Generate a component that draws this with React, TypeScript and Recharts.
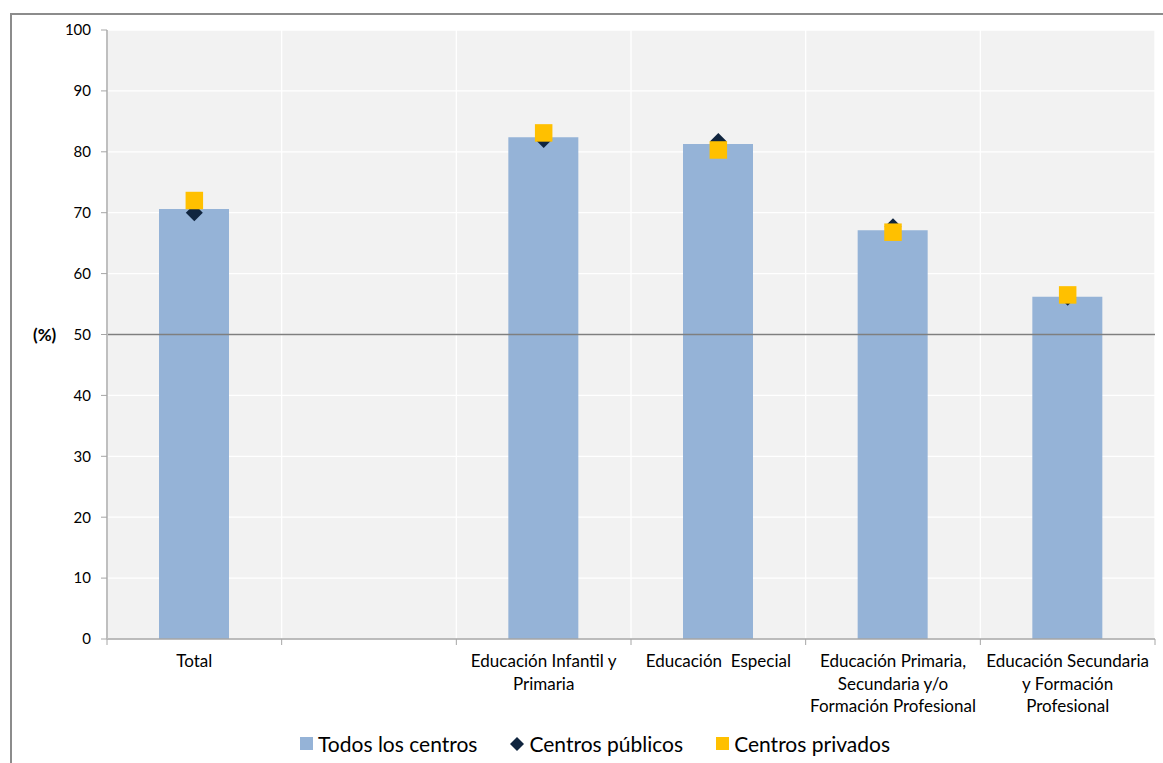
import React from 'react';
import { ComposedChart, Bar, Scatter, XAxis, YAxis, CartesianGrid, ReferenceLine, Legend } from 'recharts';

const categories: string[][] = [
  ['Total'],
  [''],
  ['Educación Infantil y', 'Primaria'],
  ['Educación  Especial'],
  ['Educación Primaria,', 'Secundaria y/o', 'Formación Profesional'],
  ['Educación Secundaria', 'y Formación', 'Profesional'],
];
const positions = [0.5, 1.5, 2.5, 3.5, 4.5, 5.5];
const todos: (number | null)[] = [70.6, null, 82.4, 81.3, 67.1, 56.2];
const publicos: (number | null)[] = [70.0, null, 82.0, 81.7, 67.7, 56.1];
const privados: (number | null)[] = [72.0, null, 83.1, 80.3, 66.8, 56.5];
const yTicks = [0, 10, 20, 30, 40, 50, 60, 70, 80, 90, 100];
const xBoundaries = [0, 1, 2, 3, 4, 5, 6];
const referenceValue = 50;

const data = positions.map((p, i) => ({
  pos: p,
  todos: todos[i],
  publicos: publicos[i],
  privados: privados[i],
}));

const FONT = 'Lato, "Open Sans", sans-serif';
const BAR_COLOR = '#95b3d7';
const PUB_COLOR = '#10253f';
const PRIV_COLOR = '#ffc000';

const CatTick = (props: any) => {
  const { x, y, payload, width } = props;
  const idx = payload.value;
  if (idx >= categories.length) return <g />;
  const w = (width || 1048) / 6;
  const lines = categories[idx];
  return (
    <text x={x + w / 2} y={y} textAnchor="middle" fontFamily={FONT} fontSize={17} fill="#000">
      {lines.map((l, i) => (
        <tspan key={i} x={x + w / 2} dy={i === 0 ? 22 : 22.5} style={{ whiteSpace: 'pre' }}>
          {l}
        </tspan>
      ))}
    </text>
  );
};

const Square = (props: any) => {
  const { cx, cy } = props;
  if (cx == null || cy == null || isNaN(cx) || isNaN(cy)) return <g />;
  const s = 17.5;
  return <rect x={cx - s / 2} y={cy - s / 2} width={s} height={s} fill={PRIV_COLOR} />;
};

const Diamond = (props: any) => {
  const { cx, cy } = props;
  if (cx == null || cy == null || isNaN(cx) || isNaN(cy)) return <g />;
  const r = 8.5;
  return (
    <path d={`M${cx},${cy - r} L${cx + r},${cy} L${cx},${cy + r} L${cx - r},${cy} Z`} fill={PUB_COLOR} />
  );
};

const LegendContent = () => {
  const items = [
    { label: 'Todos los centros', icon: <span style={{ display: 'inline-block', width: 13, height: 13, background: BAR_COLOR }} /> },
    {
      label: 'Centros públicos',
      icon: (
        <svg width={14} height={14} style={{ display: 'block' }}>
          <path d="M7,0 L14,7 L7,14 L0,7 Z" fill={PUB_COLOR} />
        </svg>
      ),
    },
    { label: 'Centros privados', icon: <span style={{ display: 'inline-block', width: 13, height: 13, background: PRIV_COLOR }} /> },
  ];
  return (
    <div style={{ display: 'flex', justifyContent: 'center', alignItems: 'center', fontFamily: FONT, fontSize: 21, color: '#000' }}>
      {items.map((it, i) => (
        <div key={i} style={{ display: 'flex', alignItems: 'center', marginLeft: i === 0 ? 0 : 33 }}>
          {it.icon}
          <span style={{ marginLeft: 5 }}>{it.label}</span>
        </div>
      ))}
    </div>
  );
};

export default function App() {
  return (
    <div style={{ position: 'absolute', left: 0, top: 0, width: 1163, height: 763, overflow: 'hidden', background: '#fff' }}>
      <div style={{ position: 'absolute', left: 10, top: 13, width: 1200, height: 800, border: '2px solid #8c8c8c' }} />
      <div style={{ position: 'absolute', left: 0, top: 0 }}>
        <ComposedChart
          width={1163}
          height={763}
          data={data}
          margin={{ top: 30, right: 8, bottom: 29, left: 0 }}
        >
          <CartesianGrid fill="#f2f2f2" stroke="#ffffff" strokeWidth={1.3} />
          <XAxis
            type="number"
            dataKey="pos"
            domain={[0, 6]}
            ticks={xBoundaries}
            interval={0}
            tick={<CatTick />}
            tickSize={6}
            tickMargin={0}
            tickLine={{ stroke: '#a6a6a6' }}
            axisLine={{ stroke: '#a6a6a6', strokeWidth: 1.5 }}
            height={70}
          />
          <YAxis
            type="number"
            domain={[0, 100]}
            ticks={yTicks}
            interval={0}
            width={107}
            tickSize={6}
            tickMargin={10}
            tick={{ fontFamily: FONT, fontSize: 15, fill: '#000' }}
            tickLine={{ stroke: '#a6a6a6' }}
            axisLine={{ stroke: '#bfbfbf', strokeWidth: 2 }}
            label={{ value: '(%)', position: 'insideLeft', offset: 33, style: { fontFamily: FONT, fontSize: 17, fontWeight: 'bold', fill: '#000' } }}
          />
          <Bar dataKey="todos" name="Todos los centros" fill={BAR_COLOR} barSize={70} isAnimationActive={false} />
          <ReferenceLine y={referenceValue} stroke="#7f7f7f" strokeWidth={1.5} />
          <Scatter dataKey="publicos" name="Centros públicos" fill={PUB_COLOR} shape={<Diamond />} isAnimationActive={false} />
          <Scatter dataKey="privados" name="Centros privados" fill={PRIV_COLOR} shape={<Square />} isAnimationActive={false} />
          <Legend content={<LegendContent />} wrapperStyle={{ left: 20, width: 1150, top: 731 }} />
        </ComposedChart>
      </div>
    </div>
  );
}
